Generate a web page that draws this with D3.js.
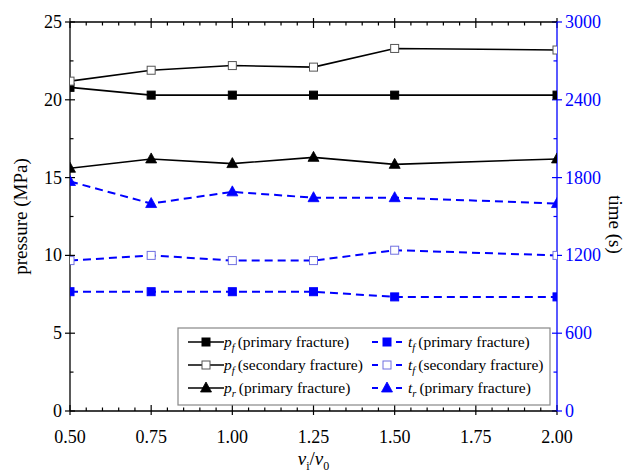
<!DOCTYPE html>
<html><head><meta charset="utf-8">
<script src="https://cdn.jsdelivr.net/npm/d3@7"></script>
<style>body{margin:0;background:#fff}svg{display:block}</style>
</head><body>
<svg id="c" width="630" height="476" font-family="'Liberation Serif', 'Times New Roman', 'DejaVu Serif', serif"></svg>
<script>
const xVals = [0.5, 0.75, 1.0, 1.25, 1.5, 2.0];
const pfPrimary = [20.8, 20.3, 20.3, 20.3, 20.3, 20.3];
const pfSecondary = [21.2, 21.9, 22.2, 22.1, 23.3, 23.2];
const prPrimary = [15.6, 16.2, 15.9, 16.3, 15.85, 16.2];
const tfPrimary = [920, 920, 920, 920, 880, 880];
const tfSecondary = [1160, 1200, 1160, 1160, 1240, 1200];
const trPrimary = [1770, 1600, 1690, 1645, 1645, 1600];
const xTicks = [0.5, 0.75, 1.0, 1.25, 1.5, 1.75, 2.0];
const yLeftTicks = [0, 5, 10, 15, 20, 25];
const yRightTicks = [0, 600, 1200, 1800, 2400, 3000];

const FONT = "'Liberation Serif', 'Times New Roman', 'DejaVu Serif', serif";
const L = 70, R = 557, T = 22, B = 411;
const blue = "#0000ff";
const svg = d3.select("#c");
const x = d3.scaleLinear().domain([0.5, 2.0]).range([L, R]);
const yL = d3.scaleLinear().domain([0, 25]).range([B, T]);
const yR = d3.scaleLinear().domain([0, 3000]).range([B, T]);

svg.append("defs").append("clipPath").attr("id", "clip")
  .append("rect").attr("x", L).attr("y", T).attr("width", R - L).attr("height", B - T);

const g = svg.append("g");
d3.range(0, 31).map(i => 0.5 + i * 0.05).forEach(v => {
  const major = xTicks.some(t => Math.abs(t - v) < 1e-6);
  g.append("line").attr("x1", x(v)).attr("x2", x(v)).attr("y1", B - (major ? 6 : 3.5)).attr("y2", B + (major ? 4 : 0)).attr("stroke", "#000").attr("stroke-width", 1.2);
  g.append("line").attr("x1", x(v)).attr("x2", x(v)).attr("y1", T + (major ? 6 : 3.5)).attr("y2", T - (major ? 4 : 0)).attr("stroke", "#000").attr("stroke-width", 1.2);
});
d3.range(0, 11).map(i => i * 2.5).forEach(v => {
  const major = v % 5 === 0;
  g.append("line").attr("y1", yL(v)).attr("y2", yL(v)).attr("x1", L - (major ? 5 : 0)).attr("x2", L + (major ? 5 : 3.5)).attr("stroke", "#000").attr("stroke-width", 1.2);
});
d3.range(0, 11).map(i => i * 300).forEach(v => {
  const major = v % 600 === 0;
  g.append("line").attr("y1", yR(v)).attr("y2", yR(v)).attr("x1", R + (major ? 5 : 0)).attr("x2", R - (major ? 5 : 3.5)).attr("stroke", blue).attr("stroke-width", 1.2);
});

svg.append("line").attr("x1", L).attr("x2", R).attr("y1", B).attr("y2", B).attr("stroke", "#000").attr("stroke-width", 1.3);
svg.append("line").attr("x1", L).attr("x2", R).attr("y1", T).attr("y2", T).attr("stroke", "#000").attr("stroke-width", 1.3);
svg.append("line").attr("x1", L).attr("x2", L).attr("y1", T).attr("y2", B).attr("stroke", "#000").attr("stroke-width", 1.3);
svg.append("line").attr("x1", R).attr("x2", R).attr("y1", T).attr("y2", B).attr("stroke", blue).attr("stroke-width", 1.3);

svg.append("g").selectAll("text").data(xTicks).join("text").attr("font-family", FONT)
  .attr("x", d => x(d)).attr("y", B + 32).attr("text-anchor", "middle").attr("font-size", 18).text(d => d.toFixed(2));
svg.append("g").selectAll("text").data(yLeftTicks).join("text").attr("font-family", FONT)
  .attr("x", L - 8).attr("y", d => yL(d) + 6).attr("text-anchor", "end").attr("font-size", 18).text(d => d);
svg.append("g").selectAll("text").data(yRightTicks).join("text").attr("font-family", FONT)
  .attr("x", R + 8).attr("y", d => yR(d) + 6).attr("text-anchor", "start").attr("font-size", 18).attr("fill", blue).text(d => d);

svg.append("text").attr("font-family", FONT).attr("transform", `translate(27,${(T + B) / 2}) rotate(-90)`).attr("text-anchor", "middle").attr("font-size", 19).text("pressure (MPa)");
svg.append("text").attr("font-family", FONT).attr("transform", `translate(609,${(T + B) / 2 + 8}) rotate(90)`).attr("text-anchor", "middle").attr("font-size", 19).text("time (s)");
const xt = svg.append("text").attr("font-family", FONT).attr("x", (L + R) / 2).attr("y", 465).attr("text-anchor", "middle").attr("font-size", 19);
xt.append("tspan").attr("font-style", "italic").text("v");
xt.append("tspan").attr("font-size", 12).attr("dy", 5).text("i");
xt.append("tspan").attr("dy", -5).text("/");
xt.append("tspan").attr("font-style", "italic").text("v");
xt.append("tspan").attr("font-size", 12).attr("dy", 5).text("0");

const series = [
  {vals: pfPrimary, y: yL, color: "#000", dash: null, marker: "sq", fill: "#000"},
  {vals: pfSecondary, y: yL, color: "#000", dash: null, marker: "sq", fill: "#fff"},
  {vals: prPrimary, y: yL, color: "#000", dash: null, marker: "tri", fill: "#000"},
  {vals: tfPrimary, y: yR, color: blue, dash: "8,5", marker: "sq", fill: blue},
  {vals: tfSecondary, y: yR, color: blue, dash: "8,5", marker: "sq", fill: "#fff"},
  {vals: trPrimary, y: yR, color: blue, dash: "8,5", marker: "tri", fill: blue}
];
const plot = svg.append("g").attr("clip-path", "url(#clip)");
function drawMarker(sel, s, cx, cy) {
  if (s.marker === "sq") {
    sel.append("rect").attr("x", cx - 4).attr("y", cy - 4).attr("width", 8).attr("height", 8)
      .attr("fill", s.fill).attr("stroke", s.fill === "#fff" ? (s.color === blue ? "#7070e0" : "#555") : s.fill).attr("stroke-width", 1);
  } else {
    const h = 10, w = 11;
    sel.append("path").attr("d", `M${cx},${cy - h * 0.6} L${cx + w / 2},${cy + h * 0.4} L${cx - w / 2},${cy + h * 0.4} Z`)
      .attr("fill", s.fill).attr("stroke", s.fill).attr("stroke-width", 0.8);
  }
}
series.forEach(s => {
  const line = d3.line().x((d, i) => x(xVals[i])).y(d => s.y(d));
  plot.append("path").datum(s.vals).attr("d", line).attr("fill", "none").attr("stroke", s.color)
    .attr("stroke-width", s.dash ? 2 : 1.6).attr("stroke-dasharray", s.dash);
  s.vals.forEach((v, i) => drawMarker(plot, s, x(xVals[i]), s.y(v)));
});

const lg = svg.append("g");
lg.append("rect").attr("x", 178).attr("y", 328).attr("width", 372).attr("height", 77).attr("fill", "#fff").attr("stroke", "#888").attr("stroke-width", 1.2);
const rows = [342, 365, 388];
const labels = [
  {sym: "p", sub: "f", txt: "(primary fracture)"},
  {sym: "p", sub: "f", txt: "(secondary fracture)"},
  {sym: "p", sub: "r", txt: "(primary fracture)"},
  {sym: "t", sub: "f", txt: "(primary fracture)"},
  {sym: "t", sub: "f", txt: "(secondary fracture)"},
  {sym: "t", sub: "r", txt: "(primary fracture)"}
];
series.forEach((s, i) => {
  const col = i < 3 ? 0 : 1;
  const cy = rows[i % 3];
  const cx = col === 0 ? 206 : 387;
  const hw = col === 0 ? 18 : 15;
  lg.append("line").attr("x1", cx - hw).attr("x2", cx + hw).attr("y1", cy).attr("y2", cy)
    .attr("stroke", s.color).attr("stroke-width", s.dash ? 2 : 1.6).attr("stroke-dasharray", s.dash ? "6,18" : null);
  drawMarker(lg, s, cx, cy);
  const t = lg.append("text").attr("font-family", FONT).attr("x", col === 0 ? 224 : 408).attr("y", cy + 5).attr("font-size", 15.5);
  t.append("tspan").attr("font-style", "italic").text(labels[i].sym);
  t.append("tspan").attr("font-style", "italic").attr("font-size", 10.5).attr("dy", 4).text(labels[i].sub);
  t.append("tspan").attr("dy", -4).attr("dx", 3).text(labels[i].txt);
});
</script>
</body></html>
